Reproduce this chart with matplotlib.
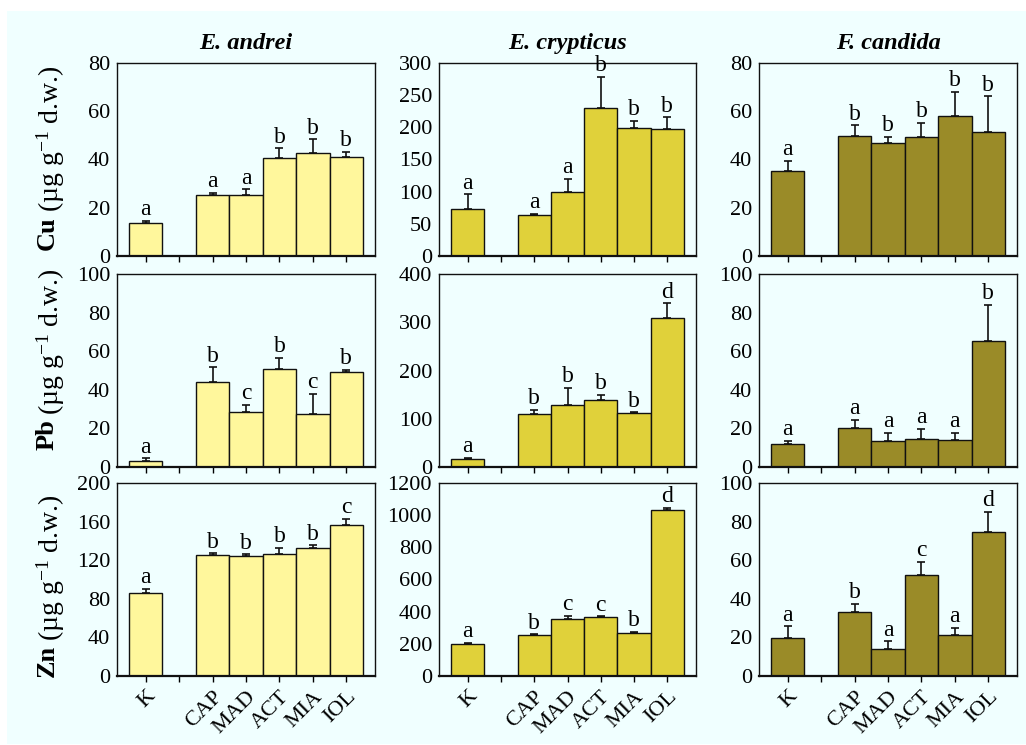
import matplotlib.pyplot as plt
from matplotlib.patches import Rectangle

plt.rcParams['font.family'] = ['Liberation Serif', 'DejaVu Serif']
plt.rcParams['mathtext.fontset'] = 'custom'
plt.rcParams['mathtext.rm'] = 'Liberation Serif'
plt.rcParams['mathtext.it'] = 'Liberation Serif:italic'
plt.rcParams['mathtext.bf'] = 'Liberation Serif:bold'

treatments = ['K', 'CAP', 'MAD', 'ACT', 'MIA', 'IOL']
species = ['E. andrei', 'E. crypticus', 'F. candida']
metals = ['Cu', 'Pb', 'Zn']
colors = ['#FFF79C', '#E0D13A', '#9A8B28']

# values (K, CAP, MAD, ACT, MIA, IOL)
cu_andrei = [13.7, 25.2, 25.4, 40.7, 42.8, 41.0]
cu_andrei_err = [0.9, 1.0, 2.2, 3.9, 5.6, 2.2]
cu_crypticus = [73.4, 63.9, 99.3, 230.8, 199.7, 197.6]
cu_crypticus_err = [22.2, 2.1, 20.7, 48.2, 10.3, 17.9]
cu_candida = [35.2, 49.8, 47.0, 49.5, 58.1, 51.3]
cu_candida_err = [4.2, 4.3, 2.5, 5.7, 9.9, 14.9]

pb_andrei = [2.9, 44.1, 28.5, 50.9, 27.3, 49.3]
pb_andrei_err = [1.6, 7.5, 3.7, 5.8, 10.6, 1.0]
pb_crypticus = [16.6, 109.3, 129.4, 139.8, 112.0, 308.7]
pb_crypticus_err = [2.1, 9.0, 35.3, 9.7, 1.5, 30.3]
pb_candida = [11.7, 20.4, 13.6, 14.7, 14.2, 65.5]
pb_candida_err = [1.8, 4.1, 4.0, 5.0, 3.4, 18.6]

zn_andrei = [86.0, 125.4, 124.4, 126.8, 132.6, 156.1]
zn_andrei_err = [4.5, 1.7, 1.7, 6.2, 2.8, 6.6]
zn_crypticus = [199, 257, 354, 367, 265, 1032]
zn_crypticus_err = [6, 2, 21, 4, 9, 13]
zn_candida = [19.8, 33.3, 14.1, 52.3, 21.4, 74.5]
zn_candida_err = [5.9, 4.0, 3.9, 6.9, 3.4, 10.5]

cu_letters = [list('aaabbb'), list('aaabbb'), list('abbbbb')]
pb_letters = [list('abcbcb'), list('abbbbd'), list('aaaaab')]
zn_letters = [list('abbbbc'), list('abccbd'), list('abacad')]

cu_ymax = [80, 300, 80]
cu_step = [20, 50, 20]
pb_ymax = [100, 400, 100]
pb_step = [20, 100, 20]
zn_ymax = [200, 1200, 100]
zn_step = [40, 200, 20]

rows = [
    ([cu_andrei, cu_crypticus, cu_candida], [cu_andrei_err, cu_crypticus_err, cu_candida_err], cu_letters, cu_ymax, cu_step),
    ([pb_andrei, pb_crypticus, pb_candida], [pb_andrei_err, pb_crypticus_err, pb_candida_err], pb_letters, pb_ymax, pb_step),
    ([zn_andrei, zn_crypticus, zn_candida], [zn_andrei_err, zn_crypticus_err, zn_candida_err], zn_letters, zn_ymax, zn_step),
]

W, H = 1026, 745
xpos = [0, 2, 3, 4, 5, 6]
bg = '#F0FFFF'

fig = plt.figure(figsize=(W / 100, H / 100), dpi=100)
fig.patches.append(Rectangle((7 / W, 1 / H), 1 - 7 / W, (744 - 11) / H,
                             transform=fig.transFigure, facecolor=bg, edgecolor='none', zorder=-10))

col_x = [(117, 375), (439, 696), (759, 1017)]
row_y = [(63, 256), (274, 467), (483, 676)]
label_bottom = [250, 450, 677]


def fx(px):
    return px / W


def fy(py):
    return 1 - py / H


for r, (vals, errs, letters, ymax, step) in enumerate(rows):
    y0, y1 = row_y[r]
    for c in range(3):
        x0, x1 = col_x[c]
        ax = fig.add_axes([fx(x0), fy(y1), fx(x1 - x0), (y1 - y0) / H])
        ax.set_facecolor(bg)
        ax.bar(xpos, vals[c], width=1.0, color=colors[c], edgecolor='#111111', linewidth=1.0, zorder=2)
        ax.errorbar(xpos, vals[c], yerr=[[0] * 6, errs[c]], fmt='none', ecolor='#111111',
                    elinewidth=1.2, capsize=3, capthick=1.2, zorder=3)
        for x, v, e, lt in zip(xpos, vals[c], errs[c], letters[c]):
            ax.annotate(lt, (x, v + e), xytext=(0, 0.5), textcoords='offset points',
                        ha='center', va='bottom', fontsize=17, zorder=4)
        ax.set_xlim(-0.86, 6.86)
        ax.set_ylim(0, ymax[c])
        ax.set_yticks(range(0, ymax[c] + 1, step[c]))
        ax.tick_params(axis='y', length=0, pad=5, labelsize=16)
        ax.set_xticks(range(7))
        ax.tick_params(axis='x', length=4, width=1, direction='out', pad=4, labelsize=16)
        if r == 2:
            ax.set_xticklabels(['K', ''] + treatments[1:], rotation=45, ha='right',
                               rotation_mode='anchor')
        else:
            ax.set_xticklabels([])
        for s in ax.spines.values():
            s.set_linewidth(1.0)
            s.set_color('#111111')
        ax.spines['bottom'].set_linewidth(1.6)
        if r == 0:
            ax.set_title(species[c], fontsize=17.5, fontweight='bold', style='italic', pad=10)

    # row label: bold metal symbol, then the units above it
    t1 = fig.text(fx(47), fy(label_bottom[r]), metals[r], rotation=90, fontsize=19,
                  fontweight='bold', ha='center', va='bottom')
    ax.annotate(r'(µg g$^{-1}$ d.w.)', xy=(0.5, 1.0), xycoords=t1, xytext=(2.5, 3),
                textcoords='offset points', rotation=90, fontsize=20,
                ha='center', va='bottom', annotation_clip=False)

fig.savefig('out.png', dpi=100, facecolor='white')
